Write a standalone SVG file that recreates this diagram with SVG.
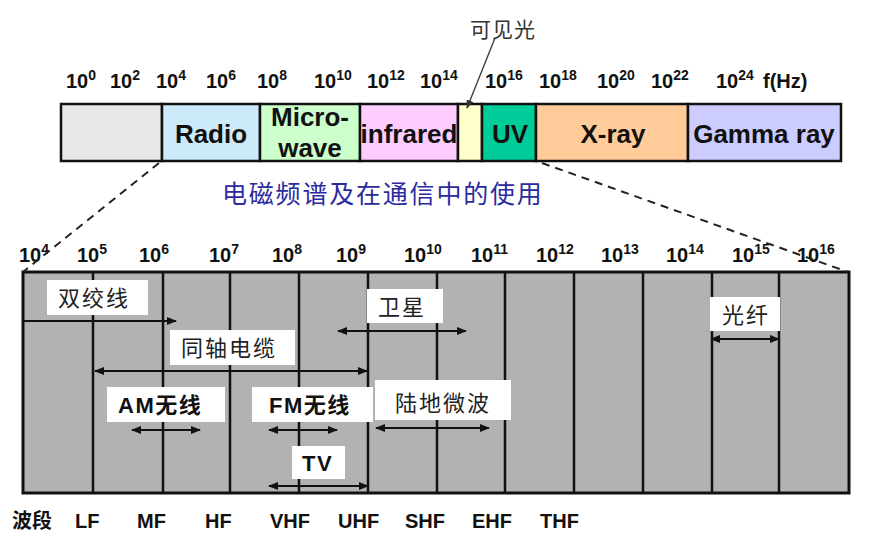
<svg xmlns="http://www.w3.org/2000/svg" width="872" height="539" viewBox="0 0 872 539">
<defs>
<style>
.num{font-family:"Liberation Sans",Arial,sans-serif;font-weight:bold;font-size:20px;fill:#111}
.sup{font-size:14px}
.band{font-family:"Liberation Sans",Arial,sans-serif;font-weight:bold;font-size:26px;fill:#111}
.cn{font-family:"Noto Sans CJK SC",sans-serif;font-size:22px;fill:#222;letter-spacing:2px}
.cnb{font-family:"Liberation Sans","Noto Sans CJK SC",sans-serif;font-weight:bold;font-size:22px;fill:#111;letter-spacing:1.5px}
.lbl{fill:#fff}
.bar{stroke:#111;stroke-width:2.5}
.grid{stroke:#111;stroke-width:2.5}
.arr{stroke:#111;stroke-width:2;fill:none}
.dash{stroke:#222;stroke-width:2;stroke-dasharray:8 6;fill:none}
</style>
<marker id="ah" viewBox="0 0 10 8" refX="9" refY="4" markerWidth="10" markerHeight="8" markerUnits="userSpaceOnUse" orient="auto-start-reverse">
<path d="M0,0 L10,4 L0,8 Z" fill="#111"/>
</marker>
<marker id="ah2" viewBox="0 0 10 8" refX="9" refY="4" markerWidth="9" markerHeight="7" markerUnits="userSpaceOnUse" orient="auto">
<path d="M0,0 L10,4 L0,8 Z" fill="#333"/>
</marker>
</defs>
<rect width="872" height="539" fill="#fff"/>

<g id="spectrum-bar">
<rect class="bar" x="61" y="104" width="101" height="57" fill="#e8e8e8"/>
<rect class="bar" x="162" y="104" width="98" height="57" fill="#cceafa"/>
<rect class="bar" x="260" y="104" width="100" height="57" fill="#ccffcc"/>
<rect class="bar" x="360" y="104" width="98" height="57" fill="#ffccff"/>
<rect class="bar" x="458" y="104" width="24" height="57" fill="#ffffcc"/>
<rect class="bar" x="482" y="104" width="54" height="57" fill="#00cc99"/>
<rect class="bar" x="536" y="104" width="152" height="57" fill="#ffcc99"/>
<rect class="bar" x="688" y="104" width="153" height="57" fill="#ccccff"/>
<text class="band" x="211" y="143" text-anchor="middle">Radio</text>
<text class="band" x="310" y="126" text-anchor="middle" font-size="24">Micro-</text>
<text class="band" x="310" y="157" text-anchor="middle" font-size="24">wave</text>
<text class="band" x="409" y="143" text-anchor="middle">infrared</text>
<text class="band" x="510" y="143" text-anchor="middle">UV</text>
<text class="band" x="613" y="143" text-anchor="middle">X-ray</text>
<text class="band" x="764" y="143" text-anchor="middle">Gamma ray</text>
</g>

<g id="top-scale">
<text class="num" x="66" y="88">10<tspan class="sup" dy="-8">0</tspan></text>
<text class="num" x="110" y="88">10<tspan class="sup" dy="-8">2</tspan></text>
<text class="num" x="156" y="88">10<tspan class="sup" dy="-8">4</tspan></text>
<text class="num" x="206" y="88">10<tspan class="sup" dy="-8">6</tspan></text>
<text class="num" x="257" y="88">10<tspan class="sup" dy="-8">8</tspan></text>
<text class="num" x="314" y="88">10<tspan class="sup" dy="-8">10</tspan></text>
<text class="num" x="367" y="88">10<tspan class="sup" dy="-8">12</tspan></text>
<text class="num" x="420" y="88">10<tspan class="sup" dy="-8">14</tspan></text>
<text class="num" x="485" y="88">10<tspan class="sup" dy="-8">16</tspan></text>
<text class="num" x="539" y="88">10<tspan class="sup" dy="-8">18</tspan></text>
<text class="num" x="597" y="88">10<tspan class="sup" dy="-8">20</tspan></text>
<text class="num" x="651" y="88">10<tspan class="sup" dy="-8">22</tspan></text>
<text class="num" x="716" y="88">10<tspan class="sup" dy="-8">24</tspan></text>
<text class="num" x="763" y="88">f(Hz)</text>
</g>

<g id="visible-light">
<text x="470" y="37" font-family="'Noto Sans CJK SC',sans-serif" font-size="21" fill="#333" letter-spacing="1">可见光</text>
</g>

<g id="title">
<text x="222" y="203" font-family="'Noto Sans CJK SC',sans-serif" font-size="25" fill="#2b2ba0" letter-spacing="1.8">电磁频谱及在通信中的使用</text>
</g>

<g id="grid">
<rect x="23" y="272" width="826" height="221" fill="#b2b2b2" stroke="#111" stroke-width="3"/>
<path class="grid" d="M93,272V493M163,272V493M230,272V493M299,272V493M368,272V493M437,272V493M505,272V493M574,272V493M643,272V493M712,272V493M779,272V493"/>
</g>

<g id="bottom-scale">
<text class="num" x="19" y="262">10<tspan class="sup" dy="-8">4</tspan></text>
<text class="num" x="77" y="262">10<tspan class="sup" dy="-8">5</tspan></text>
<text class="num" x="139" y="262">10<tspan class="sup" dy="-8">6</tspan></text>
<text class="num" x="209" y="262">10<tspan class="sup" dy="-8">7</tspan></text>
<text class="num" x="272" y="262">10<tspan class="sup" dy="-8">8</tspan></text>
<text class="num" x="336" y="262">10<tspan class="sup" dy="-8">9</tspan></text>
<text class="num" x="404" y="262">10<tspan class="sup" dy="-8">10</tspan></text>
<text class="num" x="471" y="262">10<tspan class="sup" dy="-8">11</tspan></text>
<text class="num" x="536" y="262">10<tspan class="sup" dy="-8">12</tspan></text>
<text class="num" x="601" y="262">10<tspan class="sup" dy="-8">13</tspan></text>
<text class="num" x="666" y="262">10<tspan class="sup" dy="-8">14</tspan></text>
<text class="num" x="732" y="262">10<tspan class="sup" dy="-8">15</tspan></text>
<text class="num" x="797" y="262">10<tspan class="sup" dy="-8">16</tspan></text>
</g>

<g id="band-names">
<text x="12" y="528" font-family="'Noto Sans CJK SC',sans-serif" font-weight="bold" font-size="20" fill="#111">波段</text>
<text class="num" x="75" y="528">LF</text>
<text class="num" x="137" y="528">MF</text>
<text class="num" x="205" y="528">HF</text>
<text class="num" x="270" y="528">VHF</text>
<text class="num" x="338" y="528">UHF</text>
<text class="num" x="405" y="528">SHF</text>
<text class="num" x="472" y="528">EHF</text>
<text class="num" x="540" y="528">THF</text>
</g>

<g id="connectors">
<line class="arr" x1="23" y1="321" x2="176" y2="321" marker-end="url(#ah)"/>
<line class="arr" x1="338" y1="331" x2="466" y2="331" marker-start="url(#ah)" marker-end="url(#ah)"/>
<line class="arr" x1="95" y1="371" x2="367" y2="371" marker-start="url(#ah)" marker-end="url(#ah)"/>
<line class="arr" x1="132" y1="430" x2="200" y2="430" marker-start="url(#ah)" marker-end="url(#ah)"/>
<line class="arr" x1="269" y1="430" x2="337" y2="430" marker-start="url(#ah)" marker-end="url(#ah)"/>
<line class="arr" x1="269" y1="486" x2="368" y2="486" marker-start="url(#ah)" marker-end="url(#ah)"/>
<line class="arr" x1="376" y1="428" x2="489" y2="428" marker-start="url(#ah)" marker-end="url(#ah)"/>
<line class="arr" x1="711" y1="339" x2="779" y2="339" marker-start="url(#ah)" marker-end="url(#ah)"/>
<line x1="495" y1="38" x2="467" y2="108" stroke="#333" stroke-width="1.3" marker-end="url(#ah2)"/>
<line class="dash" x1="159" y1="163" x2="23" y2="272"/>
<line class="dash" x1="542" y1="163" x2="848" y2="272"/>
</g>

<g id="label-twisted-pair">
<rect class="lbl" x="47" y="280" width="101" height="35"/>
<text class="cn" x="58" y="306">双绞线</text>
</g>
<g id="label-coax">
<rect class="lbl" x="170" y="330" width="125" height="35"/>
<text class="cn" x="181" y="356">同轴电缆</text>
</g>
<g id="label-satellite">
<rect class="lbl" x="367" y="289" width="76" height="34"/>
<text class="cn" x="378" y="315">卫星</text>
</g>
<g id="label-fiber">
<rect class="lbl" x="710" y="297" width="70" height="34"/>
<text class="cn" x="722" y="323">光纤</text>
</g>
<g id="label-am">
<rect class="lbl" x="107" y="387" width="118" height="35"/>
<text class="cnb" x="118" y="413">AM无线</text>
</g>
<g id="label-fm">
<rect class="lbl" x="252" y="387" width="121" height="35"/>
<text class="cnb" x="269" y="413">FM无线</text>
</g>
<g id="label-microwave">
<rect class="lbl" x="375" y="380" width="136" height="40"/>
<text class="cn" x="395" y="411">陆地微波</text>
</g>
<g id="label-tv">
<rect class="lbl" x="292" y="446" width="53" height="33"/>
<text class="cnb" x="302" y="471">TV</text>
</g>
</svg>
